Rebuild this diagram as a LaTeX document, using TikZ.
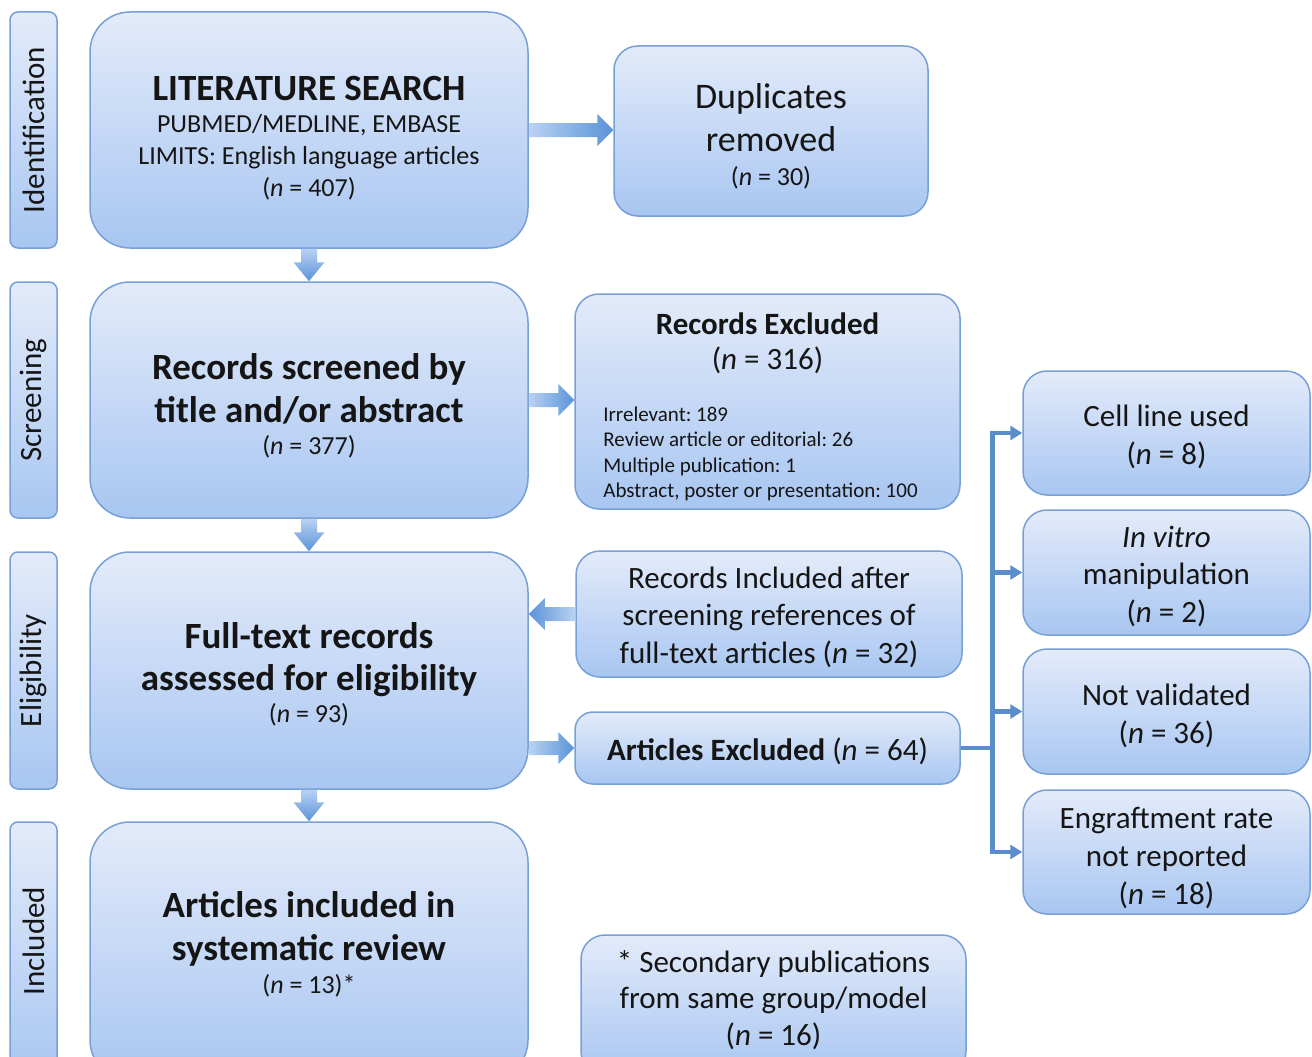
\documentclass[tikz,border=0pt]{standalone}
\usepackage{fontspec}
\setmainfont{Carlito}
\usepackage{graphicx}
\usetikzlibrary{arrows.meta,calc}
\frenchspacing
\definecolor{boxtop}{HTML}{E3EBFA}
\definecolor{boxbot}{HTML}{A8C6F1}
\definecolor{boxline}{HTML}{76A0D6}
\definecolor{arrA}{HTML}{B9D2F3}
\definecolor{arrB}{HTML}{5A93D8}
\definecolor{linkc}{HTML}{5B8DCB}
\definecolor{txt}{HTML}{151515}
\newcommand{\mytop}[1]{\rule{0pt}{#1pt}}
\newcommand{\mybot}[1]{\rule[-#1pt]{0pt}{#1pt}}
\newcommand{\bigb}{\fontsize{37}{32}\selectfont\bfseries}
\tikzset{
  box/.style={draw=boxline, line width=1.5pt, top color=boxtop, bottom color=boxbot, inner sep=0pt, align=center, text=txt},
  mainbox/.style={box, rounded corners=40pt, minimum width=438pt, minimum height=236pt, font=\fontsize{26}{32}\selectfont},
  phase/.style={box, rounded corners=8pt, minimum width=47pt, minimum height=236pt, font=\fontsize{31}{31}\selectfont},
  sidebox/.style={box, rounded corners=24pt, font=\fontsize{31}{37.5}\selectfont},
  rbox/.style={sidebox, minimum width=287pt, minimum height=124pt, font=\fontsize{31}{38}\selectfont},
  blockR/.style={left color=arrA, right color=arrB},
  blockL/.style={left color=arrB, right color=arrA},
  blockD/.style={top color=arrA, bottom color=arrB},
  link/.style={draw=linkc, line width=4.5pt, -{Triangle[length=12pt,width=14pt]}},
}
\begin{document}
\begin{tikzpicture}[x=1pt,y=-1pt]
\useasboundingbox (0,0) rectangle (1312,1057);
\fill[white] (0,0) rectangle (1312,1057);
\clip (0,0) rectangle (1312,1057);

% phase labels
\node[phase] (pid) at (33.5,130) {\rotatebox{90}{Identification}};
\node[phase] (psc) at (33.5,400) {\rotatebox{90}{Screening}};
\node[phase, minimum height=237pt] (pel) at (33.5,670.5) {\rotatebox{90}{Eligibility}};
\node[phase, minimum height=258pt] (pin) at (33.5,951) {\rotatebox{90}{\hspace{20pt}Included}};

% main column
\node[mainbox] (lit) at (309,130) {\mytop{45}{\bigb LITERATURE SEARCH}\\PUBMED/MEDLINE, EMBASE\\LIMITS: English language articles\\(\textit{n} = 407)\mybot{9}};
\node[mainbox] (scr) at (309,400) {\mytop{45}{\bigb Records screened by}\\[11pt]{\bigb title and/or abstract}\\(\textit{n} = 377)\mybot{12}};
\node[mainbox, minimum height=237pt] (full) at (309,670.5) {\mytop{45}{\bigb Full-text records}\\[10pt]{\bigb assessed for eligibility}\\(\textit{n} = 93)\mybot{16}};
\node[mainbox, minimum height=258pt] (inc) at (309,951) {\mytop{40}{\bigb Articles included in}\\[11pt]{\bigb systematic review}\\[1pt](\textit{n} = 13)*\mybot{32}};

% side boxes
\node[sidebox, minimum width=314pt, minimum height=170pt, font=\fontsize{36}{43}\selectfont] (dup) at (771,131) {\mytop{40}Duplicates\\removed\\[-9pt]{\fontsize{26}{30}\selectfont(\textit{n} = 30)}\mybot{9}};
\node[sidebox, minimum width=385pt, minimum height=215pt, font=\fontsize{31}{35}\selectfont] (rex) at (767.5,401.5) {\mytop{40}\textbf{Records Excluded}\\(\textit{n} = 316)\\[17pt]{\fontsize{21}{25.5}\selectfont\begin{tabular}[t]{@{}l@{}}Irrelevant: 189\\Review article or editorial: 26\\Multiple publication: 1\\Abstract, poster or presentation: 100\end{tabular}\hspace*{14pt}}\mybot{88}};
\node[sidebox, minimum width=386pt, minimum height=126pt] (rinc) at (769,614) {\mytop{32}Records Included after\\screening references of\\full-text articles (\textit{n} = 32)\mybot{9}};
\node[sidebox, minimum width=385pt, minimum height=72pt, rounded corners=18pt] (aex) at (767.5,748) {\mytop{32}\textbf{Articles Excluded} (\textit{n} = 64)\mybot{8}};
\node[sidebox, minimum width=385pt, minimum height=140pt, font=\fontsize{31}{36.5}\selectfont] (sec) at (773.5,1005) {\mytop{30}* Secondary publications\\from same group/model\\(\textit{n} = 16)\mybot{23}};

% right column
\node[rbox] (cell) at (1166.5,433) {\mytop{32}Cell line used\\(\textit{n} = 8)\mybot{8}};
\node[rbox, minimum height=125pt, font=\fontsize{31}{37.5}\selectfont] (vit) at (1166.5,572.5) {\mytop{32}\textit{In vitro}\\manipulation\\(\textit{n} = 2)\mybot{8}};
\node[rbox, minimum height=125pt] (notv) at (1166.5,711.5) {\mytop{32}Not validated\\(\textit{n} = 36)\mybot{7}};
\node[rbox] (engr) at (1166.5,852) {\mytop{34}Engraftment rate\\not reported\\(\textit{n} = 18)\mybot{6}};

% block arrows
\path[blockD] let \p1=(lit.south), \p2=(scr.north) in (\x1-8pt,\y1) -- (\x1-8pt,\y2+19pt) -- (\x1-15.5pt,\y2+19pt) -- (\x1,\y2) -- (\x1+15.5pt,\y2+19pt) -- (\x1+8pt,\y2+19pt) -- (\x1+8pt,\y1) -- cycle;
\path[blockD] let \p1=(scr.south), \p2=(full.north) in (\x1-8pt,\y1) -- (\x1-8pt,\y2+19pt) -- (\x1-15.5pt,\y2+19pt) -- (\x1,\y2) -- (\x1+15.5pt,\y2+19pt) -- (\x1+8pt,\y2+19pt) -- (\x1+8pt,\y1) -- cycle;
\path[blockD] let \p1=(full.south), \p2=(inc.north) in (\x1-8pt,\y1) -- (\x1-8pt,\y2+19pt) -- (\x1-15.5pt,\y2+19pt) -- (\x1,\y2) -- (\x1+15.5pt,\y2+19pt) -- (\x1+8pt,\y2+19pt) -- (\x1+8pt,\y1) -- cycle;
\path[blockR] let \p1=(lit.east), \p2=(dup.west) in (\x1,\y1+7pt) -- (\x2-16pt,\y1+7pt) -- (\x2-16pt,\y1+16pt) -- (\x2,\y1) -- (\x2-16pt,\y1-16pt) -- (\x2-16pt,\y1-7pt) -- (\x1,\y1-7pt) -- cycle;
\path[blockR] let \p1=(scr.east), \p2=(rex.west) in (\x1,\y1+7pt) -- (\x2-16pt,\y1+7pt) -- (\x2-16pt,\y1+16pt) -- (\x2,\y1) -- (\x2-16pt,\y1-16pt) -- (\x2-16pt,\y1-7pt) -- (\x1,\y1-7pt) -- cycle;
\path[blockL] let \p1=(rinc.west), \p2=(full.east) in (\x1,\y1+7pt) -- (\x2+16pt,\y1+7pt) -- (\x2+16pt,\y1+16pt) -- (\x2,\y1) -- (\x2+16pt,\y1-16pt) -- (\x2+16pt,\y1-7pt) -- (\x1,\y1-7pt) -- cycle;
\path[blockR] let \p1=(full.east), \p2=(aex.west) in (\x1,\y2+7pt) -- (\x2-16pt,\y2+7pt) -- (\x2-16pt,\y2+16pt) -- (\x2,\y2) -- (\x2-16pt,\y2-16pt) -- (\x2-16pt,\y2-7pt) -- (\x1,\y2-7pt) -- cycle;

% branching connectors
\draw[link] (aex.east) -| ([xshift=-30pt]cell.west) -- (cell.west);
\draw[link] (aex.east) -| ([xshift=-30pt]vit.west) -- (vit.west);
\draw[link] (aex.east) -| ([xshift=-30pt]notv.west) -- (notv.west);
\draw[link] (aex.east) -| ([xshift=-30pt]engr.west) -- (engr.west);
\end{tikzpicture}
\end{document}
